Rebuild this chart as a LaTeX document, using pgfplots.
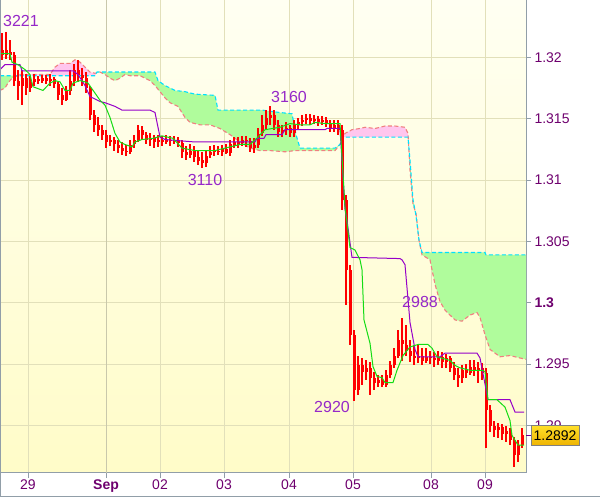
\documentclass[border=0pt]{standalone}
\usepackage{pgfplots}
\pgfplotsset{compat=1.18}
\usepackage{pgfplotstable}
\usepgfplotslibrary{fillbetween}
\usepackage{fontspec}
\setmainfont{Liberation Sans}

\definecolor{bgtop}{RGB}{255,255,242}
\definecolor{bgbot}{RGB}{255,252,200}
\definecolor{gridc}{RGB}{226,224,186}
\definecolor{framec}{RGB}{145,158,168}
\definecolor{ticktext}{RGB}{110,0,110}
\definecolor{notec}{RGB}{150,40,200}
\definecolor{kijun}{RGB}{150,0,200}
\definecolor{tenkan}{RGB}{20,220,20}
\definecolor{spanAc}{RGB}{0,225,255}
\definecolor{spanBc}{RGB}{240,128,128}
\definecolor{cloudup}{RGB}{176,252,156}
\definecolor{clouddn}{RGB}{255,198,238}
\definecolor{boxtop}{RGB}{255,222,40}
\definecolor{boxbot}{RGB}{238,178,0}

% hourly candles: x position, open, high, low, close
\pgfplotstableread{
x o h l c
2 1.3202 1.3220 1.3198 1.3206
6 1.3206 1.3221 1.3199 1.3202
10 1.3202 1.3214 1.3198 1.3204
14 1.3202 1.3204 1.3177 1.3181
18 1.3181 1.3190 1.3165 1.3177
22 1.3177 1.3190 1.3161 1.3183
26 1.3183 1.3186 1.3169 1.3175
30 1.3175 1.3185 1.3172 1.3180
34 1.3180 1.3186 1.3177 1.3182
38 1.3182 1.3185 1.3178 1.3181
42 1.3181 1.3186 1.3179 1.3183
46 1.3183 1.3186 1.3178 1.3181
50 1.3181 1.3186 1.3177 1.3182
54 1.3182 1.3184 1.3175 1.3178
58 1.3178 1.3180 1.3165 1.3169
62 1.3169 1.3175 1.3161 1.3165
66 1.3165 1.3177 1.3164 1.3173
70 1.3173 1.3190 1.3169 1.3181
74 1.3181 1.3195 1.3177 1.3190
78 1.3190 1.3198 1.3180 1.3186
82 1.3186 1.3191 1.3177 1.3183
86 1.3183 1.3188 1.3171 1.3175
90 1.3175 1.3177 1.3149 1.3153
94 1.3153 1.3157 1.3139 1.3145
98 1.3145 1.3151 1.3136 1.3141
102 1.3141 1.3145 1.3133 1.3137
106 1.3137 1.3141 1.3126 1.3131
110 1.3131 1.3137 1.3128 1.3133
114 1.3133 1.3135 1.3124 1.3129
118 1.3129 1.3133 1.3122 1.3126
122 1.3126 1.3131 1.3120 1.3124
126 1.3124 1.3129 1.3120 1.3123
130 1.3123 1.3133 1.3121 1.3129
134 1.3129 1.3137 1.3126 1.3133
138 1.3133 1.3145 1.3131 1.3141
142 1.3141 1.3144 1.3133 1.3137
146 1.3137 1.3139 1.3129 1.3133
150 1.3133 1.3138 1.3128 1.3134
154 1.3134 1.3137 1.3126 1.3131
158 1.3131 1.3137 1.3127 1.3133
162 1.3133 1.3136 1.3128 1.3131
166 1.3131 1.3137 1.3129 1.3133
170 1.3133 1.3136 1.3128 1.3132
174 1.3132 1.3136 1.3129 1.3133
178 1.3133 1.3135 1.3127 1.3130
182 1.3130 1.3133 1.3118 1.3123
186 1.3123 1.3128 1.3116 1.3120
190 1.3120 1.3129 1.3118 1.3124
194 1.3124 1.3128 1.3115 1.3119
198 1.3119 1.3124 1.3112 1.3116
202 1.3116 1.3123 1.3110 1.3114
206 1.3114 1.3124 1.3111 1.3120
210 1.3120 1.3128 1.3118 1.3123
214 1.3123 1.3129 1.3120 1.3124
218 1.3124 1.3128 1.3120 1.3123
222 1.3123 1.3129 1.3120 1.3125
226 1.3125 1.3129 1.3121 1.3122
230 1.3122 1.3133 1.3120 1.3129
234 1.3129 1.3135 1.3126 1.3131
238 1.3131 1.3135 1.3126 1.3130
242 1.3130 1.3136 1.3128 1.3133
246 1.3133 1.3136 1.3127 1.3132
250 1.3132 1.3134 1.3123 1.3126
254 1.3126 1.3134 1.3122 1.3129
258 1.3129 1.3142 1.3126 1.3138
262 1.3138 1.3153 1.3136 1.3145
266 1.3145 1.3157 1.3141 1.3151
270 1.3151 1.3160 1.3145 1.3153
274 1.3153 1.3157 1.3141 1.3145
278 1.3145 1.3149 1.3135 1.3139
282 1.3139 1.3145 1.3135 1.3141
286 1.3141 1.3147 1.3137 1.3142
290 1.3142 1.3145 1.3135 1.3138
294 1.3138 1.3149 1.3135 1.3145
298 1.3145 1.3151 1.3142 1.3147
302 1.3147 1.3153 1.3144 1.3149
306 1.3149 1.3154 1.3146 1.3151
310 1.3151 1.3154 1.3145 1.3148
314 1.3148 1.3153 1.3146 1.3150
318 1.3150 1.3152 1.3144 1.3147
322 1.3147 1.3152 1.3145 1.3149
326 1.3149 1.3151 1.3143 1.3146
330 1.3146 1.3149 1.3139 1.3142
334 1.3142 1.3149 1.3139 1.3145
338 1.3145 1.3149 1.3137 1.3141
342 1.3141 1.3145 1.3076 1.3084
346 1.3084 1.3088 1.2998 1.3027
350 1.3027 1.3031 1.2966 1.2974
354 1.2974 1.2978 1.2920 1.2929
358 1.2929 1.2957 1.2925 1.2949
362 1.2949 1.2955 1.2933 1.2944
366 1.2944 1.2953 1.2937 1.2947
370 1.2947 1.2952 1.2925 1.2939
374 1.2939 1.2944 1.2929 1.2935
378 1.2935 1.2941 1.2931 1.2937
382 1.2937 1.2941 1.2931 1.2933
386 1.2933 1.2945 1.2931 1.2941
390 1.2941 1.2953 1.2939 1.2949
394 1.2949 1.2963 1.2947 1.2957
398 1.2957 1.2978 1.2955 1.2970
402 1.2970 1.2988 1.2953 1.2966
406 1.2966 1.2982 1.2957 1.2961
410 1.2961 1.2970 1.2952 1.2957
414 1.2957 1.2966 1.2949 1.2955
418 1.2955 1.2966 1.2951 1.2957
422 1.2957 1.2963 1.2949 1.2953
426 1.2953 1.2963 1.2951 1.2956
430 1.2956 1.2961 1.2950 1.2955
434 1.2955 1.2960 1.2948 1.2953
438 1.2953 1.2961 1.2949 1.2956
442 1.2956 1.2960 1.2947 1.2952
446 1.2952 1.2958 1.2947 1.2955
450 1.2955 1.2957 1.2944 1.2947
454 1.2947 1.2952 1.2937 1.2941
458 1.2941 1.2947 1.2931 1.2939
462 1.2939 1.2949 1.2935 1.2945
466 1.2945 1.2950 1.2939 1.2943
470 1.2943 1.2953 1.2941 1.2948
474 1.2948 1.2953 1.2940 1.2945
478 1.2945 1.2952 1.2935 1.2947
482 1.2947 1.2951 1.2937 1.2943
486 1.2943 1.2947 1.2882 1.2913
490 1.2913 1.2917 1.2895 1.2900
494 1.2900 1.2904 1.2891 1.2896
498 1.2896 1.2902 1.2890 1.2899
502 1.2899 1.2901 1.2888 1.2893
506 1.2893 1.2900 1.2887 1.2896
510 1.2896 1.2898 1.2884 1.2888
514 1.2888 1.2891 1.2866 1.2876
518 1.2876 1.2888 1.2870 1.2884
522 1.2884 1.2898 1.2882 1.2892
}\candles

% kijun-sen
\pgfplotstableread{
x y
0 1.3190
5 1.3194
20 1.3194
22 1.3189
73 1.3189
78 1.3186
85 1.3177
90 1.3168
100 1.3164
105 1.3163
115 1.3160
122 1.3157
150 1.3157
155 1.3155
160 1.3135
165 1.3133
195 1.3131
255 1.3131
257 1.3134
264 1.3134
266 1.3137
282 1.3137
285 1.3141
325 1.3141
327 1.3142
340 1.3142
345 1.3076
347 1.3067
352 1.3037
400 1.3036
402 1.3035
405 1.3031
410 1.2984
415 1.2962
418 1.2956
440 1.2956
445 1.2959
477 1.2959
480 1.2955
488 1.2921
510 1.2921
515 1.2911
524 1.2911
}\kijun

% tenkan-sen
\pgfplotstableread{
x y
0 1.3203
10 1.3203
12 1.3196
18 1.3194
25 1.3190
30 1.3186
33 1.3176
43 1.3173
50 1.3179
55 1.3181
60 1.3180
65 1.3173
70 1.3173
73 1.3179
80 1.3181
85 1.3180
88 1.3179
100 1.3165
105 1.3161
110 1.3151
115 1.3138
120 1.3131
125 1.3129
132 1.3127
135 1.3131
142 1.3133
153 1.3134
162 1.3136
173 1.3134
182 1.3126
195 1.3124
215 1.3124
225 1.3126
240 1.3129
250 1.3129
258 1.3135
265 1.3141
280 1.3143
290 1.3146
300 1.3145
310 1.3145
315 1.3147
325 1.3146
340 1.3146
345 1.3078
350 1.3045
355 1.3043
360 1.3035
362 1.3027
364 1.2986
370 1.2967
373 1.2948
377 1.2940
382 1.2939
385 1.2935
393 1.2935
397 1.2945
403 1.2957
410 1.2964
418 1.2966
428 1.2966
432 1.2963
437 1.2956
450 1.2953
455 1.2949
460 1.2947
470 1.2945
482 1.2945
485 1.2944
488 1.2921
497 1.2921
505 1.2915
510 1.2904
512 1.2892
518 1.2884
524 1.2884
}\tenkan

% senkou span A
\pgfplotstableread{
x y
0 1.3185
95 1.3185
97 1.3188
155 1.3188
158 1.3181
165 1.3177
175 1.3173
185 1.3172
195 1.3170
215 1.3169
218 1.3157
262 1.3157
280 1.3155
292 1.3154
296 1.3137
300 1.3126
335 1.3126
340 1.3129
343 1.3135
408 1.3135
410 1.3116
413 1.3084
416 1.3071
419 1.3051
422 1.3041
485 1.3041
486 1.3039
526 1.3039
}\spanA

% senkou span B
\pgfplotstableread{
x y
0 1.3173
5 1.3175
8 1.3179
12 1.3183
20 1.3186
50 1.3186
55 1.3192
60 1.3195
70 1.3195
75 1.3198
80 1.3196
85 1.3192
90 1.3188
95 1.3187
100 1.3188
105 1.3186
110 1.3183
115 1.3181
120 1.3183
125 1.3186
130 1.3185
140 1.3185
150 1.3181
155 1.3177
160 1.3172
165 1.3167
170 1.3163
178 1.3160
185 1.3151
190 1.3147
200 1.3145
210 1.3145
220 1.3142
230 1.3137
240 1.3131
250 1.3126
260 1.3124
270 1.3124
285 1.3123
295 1.3124
335 1.3124
340 1.3129
345 1.3138
352 1.3141
360 1.3142
365 1.3143
375 1.3142
385 1.3144
395 1.3144
405 1.3143
408 1.3138
410 1.3108
413 1.3080
416 1.3073
419 1.3051
422 1.3039
430 1.3035
435 1.3015
440 1.3001
445 1.2994
455 1.2986
462 1.2985
470 1.2990
477 1.2992
480 1.2988
485 1.2974
490 1.2962
500 1.2956
510 1.2957
520 1.2955
526 1.2954
}\spanB

\begin{document}
\begin{tikzpicture}
\begin{axis}[
  at={(0,24bp)}, anchor=south west,
  scale only axis, width=526bp, height=473bp,
  xmin=0, xmax=526, ymin=1.28613, ymax=1.32467,
  axis background/.style={top color=bgtop, bottom color=bgbot},
  grid=major, grid style={gridc, line width=1bp},
  axis line style={framec, line width=1bp},
  tick align=outside, major tick length=5bp,
  tick style={framec, line width=1bp},
  xtick pos=left, ytick pos=right, yticklabel pos=right,
  xtick={28,106,160,224,289,353,431,485},
  xticklabels={29,\textbf{Sep},02,03,04,05,08,09},
  ytick={1.29,1.295,1.3,1.305,1.31,1.315,1.32},
  yticklabels={1.29,1.295,\textbf{1.3},1.305,1.31,1.315,1.32},
  ticklabel style={font=\fontsize{14bp}{16bp}\selectfont, text=ticktext},
  xticklabel style={yshift=2bp},
  yticklabel style={anchor=west},
]
% month boundary grid line is a shade darker
\draw[gridc!75!gray, line width=1bp] (axis cs:106,1.28613) -- (axis cs:106,1.32467);
% cloud
\addplot[draw=none, name path=A] table[x=x, y=y] {\spanA};
\addplot[draw=none, name path=B] table[x=x, y=y] {\spanB};
\addplot[cloudup] fill between[of=A and B, soft clip={domain=0:14}];
\addplot[clouddn] fill between[of=A and B, soft clip={domain=14:96}];
\addplot[cloudup] fill between[of=A and B, soft clip={domain=96:342}];
\addplot[clouddn] fill between[of=A and B, soft clip={domain=342:409}];
\addplot[cloudup] fill between[of=A and B, soft clip={domain=409:526}];
\addplot[spanBc, line width=1.1bp, dash pattern=on 4bp off 2.5bp] table[x=x, y=y] {\spanB};
\addplot[spanAc, line width=1.1bp, dash pattern=on 4bp off 2.5bp] table[x=x, y=y] {\spanA};
% candles: wicks then bodies
\addplot[red, draw=none, mark=none,
  error bars/.cd, y dir=both, y explicit, error mark=none,
  error bar style={draw=red, line width=1.2bp}]
  table[x=x, y expr={(\thisrow{h}+\thisrow{l})/2},
        y error expr={(\thisrow{h}-\thisrow{l})/2}] {\candles};
\addplot[red, draw=none, mark=none,
  error bars/.cd, y dir=both, y explicit, error mark=none,
  error bar style={draw=red, line width=3bp}]
  table[x=x, y expr={(\thisrow{o}+\thisrow{c})/2},
        y error expr={max(abs(\thisrow{o}-\thisrow{c})/2,0.00003)}] {\candles};
% ichimoku lines
\addplot[kijun, line width=1bp] table[x=x, y=y] {\kijun};
\addplot[tenkan, line width=1bp] table[x=x, y=y] {\tenkan};
% extremes
\begin{scope}[every node/.style={font=\fontsize{16bp}{18bp}\selectfont, text=notec}]
\node at (axis cs:21,1.32296) {3221};
\node at (axis cs:205,1.3100) {3110};
\node at (axis cs:289,1.3168) {3160};
\node at (axis cs:420,1.3001) {2988};
\node at (axis cs:332,1.2915) {2920};
\end{scope}
\end{axis}
% last price marker
\draw[kijun!70!black, line width=1bp] (526bp,61bp) -- (531bp,61bp);
\draw[draw=gray, line width=1bp, top color=boxtop, bottom color=boxbot]
  (531bp,51bp) rectangle (579bp,71bp);
\node[font=\fontsize{14bp}{16bp}\selectfont, text=black] at (555bp,61bp) {1.2892};
% outer frame
\draw[framec, line width=1bp] (0.5bp,0) -- (0.5bp,497bp);
\draw[framec, line width=1bp] (0,0.5bp) -- (600bp,0.5bp);
\pgfresetboundingbox
\path[use as bounding box] (0,0) rectangle (600bp,497bp);
\end{tikzpicture}
\end{document}
